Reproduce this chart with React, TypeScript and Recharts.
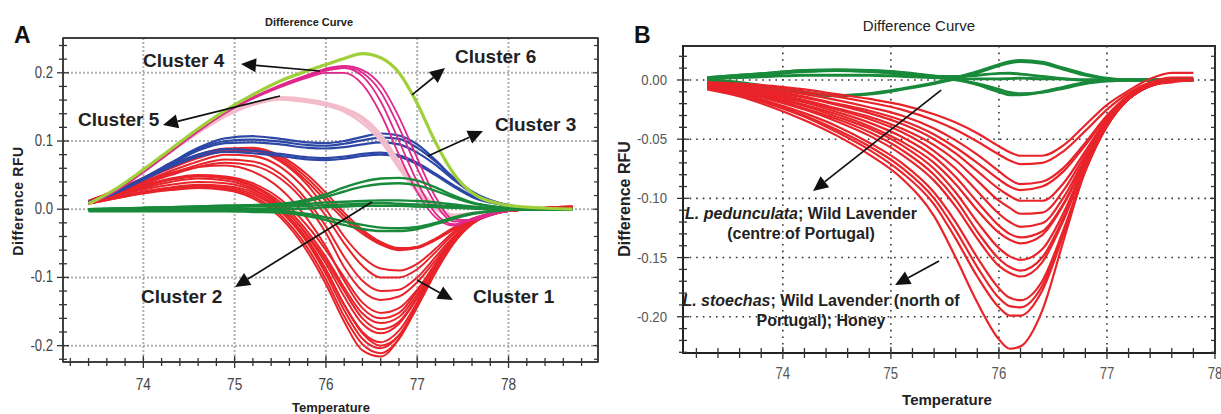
import React from 'react';
import { LineChart, Line, XAxis, YAxis, ReferenceLine, ReferenceArea, CartesianGrid } from 'recharts';

const SANS = "'Liberation Sans', Arial, Helvetica, sans-serif";

// ---------------- Panel A data ----------------
const tempA = [73.4, 73.7, 74.0, 74.3, 74.6, 74.9, 75.2, 75.5, 75.8, 76.0, 76.2, 76.4, 76.6, 76.8, 77.0, 77.2, 77.4, 77.6, 77.9, 78.2, 78.5, 78.7];

const cluster1A = [
  [0.012, 0.028, 0.045, 0.063, 0.078, 0.088, 0.088, 0.075, 0.045, 0.018, -0.01, -0.033, -0.05, -0.058, -0.055, -0.043, -0.027, -0.014, -0.004, 0, 0.003, 0.004],
  [0.012, 0.027, 0.043, 0.06, 0.075, 0.085, 0.085, 0.072, 0.04, 0.012, -0.015, -0.036, -0.052, -0.06, -0.057, -0.045, -0.028, -0.015, -0.004, 0, 0.003, 0.004],
  [0.012, 0.028, 0.046, 0.064, 0.08, 0.089, 0.09, 0.078, 0.05, 0.024, -0.005, -0.03, -0.048, -0.057, -0.056, -0.045, -0.03, -0.016, -0.004, 0, 0.003, 0.004],
  [0.012, 0.027, 0.044, 0.062, 0.077, 0.087, 0.086, 0.07, 0.035, 0, -0.04, -0.07, -0.087, -0.09, -0.08, -0.058, -0.033, -0.016, -0.004, 0, 0.003, 0.004],
  [0.011, 0.025, 0.04, 0.056, 0.07, 0.08, 0.078, 0.062, 0.025, -0.01, -0.05, -0.083, -0.1, -0.1, -0.088, -0.063, -0.036, -0.017, -0.004, 0, 0.002, 0.003],
  [0.011, 0.024, 0.038, 0.052, 0.065, 0.073, 0.07, 0.052, 0.012, -0.025, -0.07, -0.105, -0.12, -0.118, -0.1, -0.07, -0.04, -0.018, -0.005, 0, 0.002, 0.003],
  [0.011, 0.024, 0.037, 0.05, 0.062, 0.068, 0.064, 0.045, 0.005, -0.035, -0.085, -0.12, -0.133, -0.128, -0.107, -0.075, -0.042, -0.019, -0.005, 0, 0.002, 0.003],
  [0.011, 0.025, 0.04, 0.053, 0.062, 0.064, 0.055, 0.03, -0.015, -0.055, -0.105, -0.145, -0.16, -0.152, -0.12, -0.08, -0.044, -0.019, -0.005, 0, 0.002, 0.003],
  [0.01, 0.022, 0.035, 0.045, 0.05, 0.048, 0.038, 0.015, -0.025, -0.06, -0.1, -0.137, -0.152, -0.145, -0.118, -0.08, -0.045, -0.02, -0.005, 0, 0.002, 0.003],
  [0.01, 0.022, 0.034, 0.044, 0.049, 0.046, 0.035, 0.01, -0.033, -0.07, -0.115, -0.153, -0.167, -0.158, -0.125, -0.083, -0.046, -0.02, -0.005, 0, 0.002, 0.003],
  [0.009, 0.019, 0.029, 0.036, 0.04, 0.038, 0.028, 0.005, -0.038, -0.075, -0.12, -0.16, -0.176, -0.165, -0.13, -0.086, -0.047, -0.021, -0.005, 0, 0.002, 0.003],
  [0.01, 0.021, 0.033, 0.043, 0.048, 0.045, 0.033, 0.006, -0.04, -0.08, -0.128, -0.168, -0.182, -0.168, -0.13, -0.085, -0.047, -0.021, -0.005, 0, 0.002, 0.003],
  [0.009, 0.02, 0.031, 0.04, 0.045, 0.042, 0.03, 0.002, -0.047, -0.09, -0.14, -0.18, -0.195, -0.178, -0.136, -0.088, -0.048, -0.021, -0.005, 0, 0.002, 0.003],
  [0.008, 0.017, 0.026, 0.032, 0.036, 0.034, 0.025, 0, -0.045, -0.088, -0.14, -0.182, -0.2, -0.185, -0.143, -0.093, -0.05, -0.022, -0.005, 0, 0.002, 0.003],
  [0.008, 0.017, 0.025, 0.031, 0.034, 0.032, 0.022, -0.003, -0.05, -0.095, -0.148, -0.19, -0.204, -0.185, -0.14, -0.09, -0.049, -0.021, -0.005, 0, 0.002, 0.003],
  [0.008, 0.016, 0.024, 0.03, 0.033, 0.03, 0.019, -0.008, -0.057, -0.103, -0.157, -0.198, -0.211, -0.19, -0.143, -0.091, -0.049, -0.021, -0.005, 0, 0.002, 0.003],
  [0.008, 0.016, 0.023, 0.028, 0.031, 0.028, 0.016, -0.012, -0.063, -0.11, -0.165, -0.207, -0.216, -0.19, -0.14, -0.088, -0.047, -0.02, -0.005, 0, 0.002, 0.003],
];

const cluster2A = [
  [0, 0.001, 0.002, 0.003, 0.004, 0.005, 0.006, 0.008, 0.014, 0.022, 0.032, 0.04, 0.045, 0.046, 0.042, 0.032, 0.02, 0.01, 0.003, 0, 0, 0],
  [0, 0.001, 0.002, 0.003, 0.004, 0.005, 0.006, 0.007, 0.012, 0.018, 0.026, 0.033, 0.037, 0.038, 0.035, 0.027, 0.017, 0.009, 0.003, 0, 0, 0],
  [0, 0, 0.001, 0.002, 0.003, 0.004, 0.005, 0.006, 0.008, 0.01, 0.011, 0.012, 0.013, 0.013, 0.012, 0.01, 0.007, 0.004, 0.001, 0, 0, 0],
  [-0.001, 0, 0, 0.001, 0.002, 0.003, 0.004, 0.004, 0.005, 0.006, 0.007, 0.008, 0.009, 0.008, 0.007, 0.006, 0.004, 0.002, 0, 0, 0, 0],
  [-0.001, -0.001, -0.001, -0.001, 0, 0, 0, 0, 0.001, 0.003, 0.004, 0.005, 0.005, 0.005, 0.004, 0.003, 0.002, 0.001, 0, 0, 0, 0],
  [-0.002, -0.002, -0.002, -0.002, -0.002, -0.002, -0.002, -0.003, -0.007, -0.012, -0.018, -0.023, -0.027, -0.028, -0.026, -0.02, -0.012, -0.006, -0.002, 0, 0, 0],
  [-0.003, -0.003, -0.003, -0.003, -0.003, -0.003, -0.004, -0.005, -0.01, -0.016, -0.023, -0.029, -0.032, -0.032, -0.029, -0.022, -0.014, -0.007, -0.002, 0, 0, 0],
];

const cluster3A = [
  [0.01, 0.025, 0.046, 0.068, 0.09, 0.104, 0.107, 0.103, 0.098, 0.097, 0.1, 0.106, 0.111, 0.108, 0.095, 0.072, 0.045, 0.024, 0.008, 0.002, 0, 0],
  [0.01, 0.025, 0.045, 0.067, 0.088, 0.1, 0.102, 0.099, 0.094, 0.093, 0.096, 0.101, 0.105, 0.103, 0.09, 0.07, 0.046, 0.026, 0.009, 0.002, 0, 0],
  [0.01, 0.024, 0.044, 0.065, 0.086, 0.097, 0.098, 0.095, 0.09, 0.089, 0.091, 0.095, 0.098, 0.095, 0.083, 0.065, 0.043, 0.024, 0.009, 0.002, 0, 0],
  [0.01, 0.024, 0.044, 0.064, 0.08, 0.088, 0.086, 0.081, 0.076, 0.075, 0.077, 0.081, 0.083, 0.079, 0.068, 0.052, 0.035, 0.02, 0.008, 0.002, 0, 0],
  [0.01, 0.024, 0.043, 0.062, 0.077, 0.084, 0.082, 0.078, 0.073, 0.072, 0.074, 0.078, 0.08, 0.077, 0.066, 0.05, 0.033, 0.018, 0.007, 0.002, 0, 0],
];

const cluster4A = [
  [0.008, 0.028, 0.055, 0.085, 0.115, 0.142, 0.163, 0.18, 0.195, 0.203, 0.207, 0.195, 0.158, 0.1, 0.04, -0.006, -0.022, -0.015, -0.004, 0, 0, 0],
  [0.008, 0.028, 0.055, 0.085, 0.115, 0.142, 0.163, 0.181, 0.196, 0.205, 0.209, 0.2, 0.172, 0.12, 0.06, 0.008, -0.018, -0.016, -0.005, 0, 0, 0],
  [0.008, 0.027, 0.054, 0.084, 0.114, 0.141, 0.162, 0.179, 0.193, 0.2, 0.2, 0.183, 0.14, 0.08, 0.025, -0.012, -0.024, -0.014, -0.003, 0, 0, 0],
  [0.008, 0.028, 0.055, 0.085, 0.115, 0.142, 0.164, 0.182, 0.197, 0.206, 0.21, 0.204, 0.182, 0.135, 0.075, 0.018, -0.015, -0.016, -0.005, 0, 0, 0],
];

const cluster5A = [
  [0.008, 0.028, 0.055, 0.085, 0.113, 0.138, 0.155, 0.164, 0.161, 0.156, 0.148, 0.135, 0.11, 0.07, 0.033, 0.006, -0.008, -0.006, -0.002, 0, 0, 0],
  [0.008, 0.028, 0.055, 0.084, 0.112, 0.137, 0.154, 0.162, 0.159, 0.154, 0.146, 0.131, 0.105, 0.065, 0.029, 0.003, -0.009, -0.006, -0.002, 0, 0, 0],
  [0.008, 0.028, 0.055, 0.084, 0.112, 0.136, 0.153, 0.161, 0.157, 0.152, 0.143, 0.126, 0.1, 0.06, 0.025, 0, -0.01, -0.006, -0.002, 0, 0, 0],
];

const cluster6A = [
  [0.008, 0.03, 0.058, 0.088, 0.118, 0.145, 0.168, 0.188, 0.203, 0.212, 0.221, 0.228, 0.222, 0.2, 0.155, 0.098, 0.052, 0.024, 0.008, 0.003, 0.001, 0],
];

// ---------------- Panel B data ----------------
const tempB = [73.3, 73.6, 73.9, 74.2, 74.5, 74.8, 75.1, 75.4, 75.6, 75.8, 76.0, 76.1, 76.2, 76.4, 76.6, 76.8, 77.0, 77.2, 77.4, 77.6, 77.8];

const pedunculataB = [
  [0.002, 0.004, 0.006, 0.008, 0.0085, 0.008, 0.0065, 0.0035, 0.001, -0.004, -0.01, -0.0125, -0.0125, -0.01, -0.006, -0.002, -0.0005, 0, 0, 0, 0],
  [0, -0.003, -0.007, -0.011, -0.0135, -0.012, -0.008, -0.003, 0.001, 0.006, 0.012, 0.0145, 0.0155, 0.014, 0.009, 0.004, 0.001, 0, 0, 0, 0],
  [0.001, 0.003, 0.005, 0.007, 0.008, 0.007, 0.005, 0.003, 0.003, 0.004, 0.0055, 0.0057, 0.005, 0.003, 0.001, 0, 0, 0, 0, 0, 0],
  [0.002, 0.004, 0.006, 0.008, 0.0085, 0.008, 0.006, 0.003, 0, -0.003, -0.008, -0.0105, -0.0115, -0.0105, -0.007, -0.003, -0.001, 0, 0, 0, 0],
  [0, -0.002, -0.006, -0.01, -0.013, -0.0115, -0.0075, -0.0025, 0.002, 0.007, 0.013, 0.0155, 0.0165, 0.015, 0.01, 0.005, 0.0015, 0, 0, 0, 0],
  [0.001, 0.002, 0.003, 0.004, 0.004, 0.004, 0.003, 0.002, 0.001, 0.001, 0.001, 0.0012, 0.0015, 0.001, 0.001, 0, 0, 0, 0, 0, 0],
];

const stoechasB = [
  [-0.002, -0.003, -0.005, -0.008, -0.012, -0.016, -0.021, -0.029, -0.036, -0.045, -0.056, -0.061, -0.064, -0.064, -0.055, -0.038, -0.021, -0.009, 0.001, 0.006, 0.006],
  [-0.002, -0.004, -0.006, -0.01, -0.014, -0.019, -0.025, -0.034, -0.042, -0.052, -0.063, -0.068, -0.071, -0.07, -0.06, -0.043, -0.025, -0.011, -0.002, 0.002, 0.002],
  [-0.003, -0.005, -0.008, -0.012, -0.017, -0.023, -0.03, -0.041, -0.051, -0.063, -0.077, -0.084, -0.088, -0.086, -0.074, -0.053, -0.03, -0.013, -0.004, 0, 0],
  [-0.003, -0.006, -0.009, -0.014, -0.02, -0.026, -0.034, -0.046, -0.057, -0.07, -0.084, -0.09, -0.093, -0.09, -0.077, -0.055, -0.031, -0.014, -0.004, 0, 0],
  [-0.003, -0.006, -0.01, -0.015, -0.021, -0.028, -0.037, -0.05, -0.062, -0.077, -0.092, -0.098, -0.102, -0.102, -0.087, -0.06, -0.033, -0.014, -0.004, -0.001, 0],
  [-0.004, -0.007, -0.011, -0.017, -0.024, -0.031, -0.041, -0.055, -0.068, -0.085, -0.102, -0.108, -0.113, -0.112, -0.093, -0.063, -0.034, -0.015, -0.005, -0.001, 0],
  [-0.004, -0.007, -0.012, -0.018, -0.025, -0.033, -0.044, -0.06, -0.075, -0.094, -0.113, -0.12, -0.124, -0.121, -0.099, -0.066, -0.035, -0.015, -0.005, -0.001, 0],
  [-0.004, -0.008, -0.013, -0.019, -0.027, -0.036, -0.048, -0.065, -0.082, -0.103, -0.123, -0.13, -0.133, -0.128, -0.104, -0.068, -0.036, -0.016, -0.005, -0.001, 0],
  [-0.005, -0.009, -0.014, -0.021, -0.029, -0.039, -0.052, -0.07, -0.088, -0.11, -0.129, -0.135, -0.138, -0.131, -0.105, -0.069, -0.036, -0.016, -0.005, -0.001, 0],
  [-0.005, -0.009, -0.015, -0.022, -0.031, -0.041, -0.055, -0.075, -0.095, -0.12, -0.142, -0.149, -0.152, -0.143, -0.112, -0.071, -0.037, -0.016, -0.005, -0.001, 0],
  [-0.005, -0.01, -0.016, -0.024, -0.033, -0.044, -0.059, -0.08, -0.101, -0.128, -0.151, -0.158, -0.161, -0.15, -0.116, -0.073, -0.038, -0.016, -0.005, -0.001, 0],
  [-0.006, -0.01, -0.017, -0.025, -0.035, -0.047, -0.063, -0.085, -0.107, -0.134, -0.157, -0.163, -0.166, -0.154, -0.118, -0.073, -0.038, -0.016, -0.005, -0.001, 0],
  [-0.006, -0.011, -0.019, -0.028, -0.039, -0.053, -0.07, -0.095, -0.12, -0.15, -0.176, -0.184, -0.186, -0.17, -0.126, -0.076, -0.039, -0.016, -0.005, -0.001, 0],
  [-0.007, -0.012, -0.02, -0.03, -0.042, -0.056, -0.074, -0.1, -0.127, -0.158, -0.184, -0.191, -0.192, -0.174, -0.128, -0.076, -0.039, -0.016, -0.005, -0.001, 0],
  [-0.007, -0.013, -0.021, -0.031, -0.044, -0.059, -0.078, -0.105, -0.134, -0.166, -0.192, -0.199, -0.199, -0.178, -0.13, -0.077, -0.039, -0.016, -0.005, -0.001, 0],
  [-0.008, -0.014, -0.023, -0.034, -0.047, -0.063, -0.083, -0.115, -0.15, -0.188, -0.219, -0.227, -0.225, -0.195, -0.135, -0.076, -0.036, -0.014, -0.005, -0.002, 0],
];

// ---------------- Ticks ----------------
const xTicksA = [73.2, 73.4, 73.6, 73.8, 74, 74.2, 74.4, 74.6, 74.8, 75, 75.2, 75.4, 75.6, 75.8, 76, 76.2, 76.4, 76.6, 76.8, 77, 77.2, 77.4, 77.6, 77.8, 78, 78.2, 78.4, 78.6, 78.8];
const xMajorA = [74, 75, 76, 77, 78];
const xLabelsA = ['74', '75', '76', '77', '78'];
const yTicksA = [-0.22, -0.2, -0.18, -0.16, -0.14, -0.12, -0.1, -0.08, -0.06, -0.04, -0.02, 0, 0.02, 0.04, 0.06, 0.08, 0.1, 0.12, 0.14, 0.16, 0.18, 0.2, 0.22, 0.24];
const yMajorA = [-0.2, -0.1, 0, 0.1, 0.2];
const yLabelsA = ['-0.2', '-0.1', '0.0', '0.1', '0.2'];

const xTicksB = [73.2, 73.4, 73.6, 73.8, 74, 74.2, 74.4, 74.6, 74.8, 75, 75.2, 75.4, 75.6, 75.8, 76, 76.2, 76.4, 76.6, 76.8, 77, 77.2, 77.4, 77.6, 77.8, 78];
const xMajorB = [74, 75, 76, 77, 78];
const xLabelsB = ['74', '75', '76', '77', '78'];
const yTicksB = [-0.23, -0.22, -0.21, -0.2, -0.19, -0.18, -0.17, -0.16, -0.15, -0.14, -0.13, -0.12, -0.11, -0.1, -0.09, -0.08, -0.07, -0.06, -0.05, -0.04, -0.03, -0.02, -0.01, 0, 0.01, 0.02];
const yMajorB = [-0.2, -0.15, -0.1, -0.05, 0];
const yLabelsB = ['-0.20', '-0.15', '-0.10', '-0.05', '0.00'];

// ---------------- Helpers ----------------
type Group = { key: string; color: string; width: number; series: number[][] };

function buildRows(xs: number[], groups: Group[]) {
  return xs.map((t, i) => {
    const row: Record<string, number> = { t };
    groups.forEach((g) => g.series.forEach((s, j) => { row[`${g.key}${j}`] = s[i]; }));
    return row;
  });
}

const groupsA: Group[] = [
  { key: 'c1_', color: '#e8242a', width: 2, series: cluster1A },
  { key: 'c3_', color: '#2c47a6', width: 2.2, series: cluster3A },
  { key: 'c5_', color: '#f3bccb', width: 2.5, series: cluster5A },
  { key: 'c4_', color: '#e0288c', width: 1.8, series: cluster4A },
  { key: 'c2_', color: '#188a3a', width: 2.4, series: cluster2A },
  { key: 'c6_', color: '#9fd03a', width: 3.2, series: cluster6A },
];
const groupsB: Group[] = [
  { key: 'ped_', color: '#188a3a', width: 2.8, series: pedunculataB },
  { key: 'sto_', color: '#e8242a', width: 2.2, series: stoechasB },
];

const rowsA = buildRows(tempA, groupsA);
const rowsB = buildRows(tempB, groupsB);

type TickCfg = {
  side: 'bottom' | 'left' | 'top' | 'right';
  majors: number[];
  labels?: string[];
  major: number;
  minor: number;
  fontSize?: number;
  off?: number;
  sx?: number;
  color?: string;
};

function makeTick(cfg: TickCfg) {
  return (p: any) => {
    const { x, y, payload } = p;
    const v = payload.value;
    const idx = cfg.majors.indexOf(v);
    const len = idx >= 0 ? cfg.major : cfg.minor;
    const stroke = '#333';
    const sx = cfg.sx || 1;
    let line: React.ReactNode = null;
    let label: React.ReactNode = null;
    if (cfg.side === 'bottom') {
      line = <line x1={x} x2={x} y1={y - len} y2={y + len} stroke={stroke} strokeWidth={1.3} />;
      if (idx >= 0 && cfg.labels) {
        label = (
          <text transform={`translate(${x},${y + (cfg.off || 0)}) scale(${sx},1)`} textAnchor="middle" fontSize={cfg.fontSize} fontFamily={SANS} fill={cfg.color || '#444'}>
            {cfg.labels[idx]}
          </text>
        );
      }
    } else if (cfg.side === 'left') {
      line = <line x1={x - len} x2={x + len} y1={y} y2={y} stroke={stroke} strokeWidth={1.3} />;
      if (idx >= 0 && cfg.labels) {
        label = (
          <text transform={`translate(${x - (cfg.off || 0)},${y + 5}) scale(${sx},1)`} textAnchor="end" fontSize={cfg.fontSize} fontFamily={SANS} fill={cfg.color || '#444'}>
            {cfg.labels[idx]}
          </text>
        );
      }
    } else if (cfg.side === 'top') {
      line = <line x1={x} x2={x} y1={y} y2={y + len} stroke={stroke} strokeWidth={1.2} />;
    } else {
      line = <line x1={x - len} x2={x} y1={y} y2={y} stroke={stroke} strokeWidth={1.2} />;
    }
    return (
      <g>
        {line}
        {label}
      </g>
    );
  };
}

const Arrow = (props: any) => {
  const { x1, y1, x2, y2 } = props;
  const ang = Math.atan2(y2 - y1, x2 - x1);
  const L = 15;
  const W = 7;
  const bx = x2 - L * Math.cos(ang);
  const by = y2 - L * Math.sin(ang);
  const px = -Math.sin(ang) * W;
  const py = Math.cos(ang) * W;
  return (
    <g>
      <line x1={x1} y1={y1} x2={bx} y2={by} stroke="#111" strokeWidth={1.7} />
      <polygon points={`${x2},${y2} ${bx + px},${by + py} ${bx - px},${by - py}`} fill="#111" />
    </g>
  );
};

// arrow segments (tail -> tip), in data coordinates
const arrowsA = [
  [75.935, 0.2026, 75.07, 0.2129],
  [75.497, 0.166, 74.215, 0.1235],
  [76.943, 0.1675, 77.304, 0.207],
  [77.118, 0.078, 77.72, 0.1147],
  [76.504, 0.0106, 75.004, -0.114],
  [76.997, -0.1038, 77.39, -0.1331],
];
const arrowsB = [
  [75.465, -0.0085, 74.28, -0.0937],
  [75.446, -0.1529, 75.039, -0.1731],
];

function renderLines(groups: Group[]) {
  const out: React.ReactNode[] = [];
  groups.forEach((g) =>
    g.series.forEach((_, j) =>
      out.push(
        <Line
          key={`${g.key}${j}`}
          dataKey={`${g.key}${j}`}
          type="monotone"
          stroke={g.color}
          strokeWidth={g.width}
          dot={false}
          activeDot={false}
          isAnimationActive={false}
        />
      )
    )
  );
  return out;
}

function renderArrows(list: number[][], prefix: string) {
  return list.map((a, i) => (
    <ReferenceLine
      key={`${prefix}${i}`}
      segment={[{ x: a[0], y: a[1] }, { x: a[2], y: a[3] }]}
      ifOverflow="visible"
      shape={Arrow}
    />
  ));
}

const domXA: [number, number] = [73.12, 78.98];
const domYA: [number, number] = [-0.224, 0.251];
const domXB: [number, number] = [73.076, 78.0];
const domYB: [number, number] = [-0.2306, 0.0287];

function PanelA() {
  return (
    <LineChart width={610} height={414} data={rowsA} margin={{ top: 37, right: 11, left: 0, bottom: 0 }}>
      <CartesianGrid
        horizontalValues={yMajorA}
        verticalValues={xMajorA}
        stroke="#b0b0b0"
        strokeWidth={2}
        strokeDasharray="2 2"
      />
      <XAxis
        dataKey="t"
        type="number"
        domain={domXA}
        allowDataOverflow
        ticks={xTicksA}
        interval={0}
        height={52}
        tickSize={0}
        tickMargin={0}
        tickLine={false}
        axisLine={{ stroke: '#333', strokeWidth: 1.5 }}
        tick={makeTick({ side: 'bottom', majors: xMajorA, labels: xLabelsA, major: 6, minor: 4, fontSize: 17, off: 28, sx: 0.8 })}
      />
      <XAxis
        xAxisId="top"
        orientation="top"
        type="number"
        domain={domXA}
        allowDataOverflow
        ticks={xTicksA}
        interval={0}
        height={1}
        tickSize={0}
        tickMargin={0}
        tickLine={false}
        axisLine={{ stroke: '#333', strokeWidth: 1.5 }}
        tick={makeTick({ side: 'top', majors: xMajorA, major: 5, minor: 4 })}
      />
      <YAxis
        type="number"
        domain={domYA}
        allowDataOverflow
        ticks={yTicksA}
        interval={0}
        width={63}
        tickSize={0}
        tickMargin={0}
        tickLine={false}
        axisLine={{ stroke: '#333', strokeWidth: 1.5 }}
        tick={makeTick({ side: 'left', majors: yMajorA, labels: yLabelsA, major: 6, minor: 4, fontSize: 16, off: 10, sx: 0.82 })}
      />
      <YAxis
        yAxisId="right"
        orientation="right"
        type="number"
        domain={domYA}
        allowDataOverflow
        ticks={yTicksA}
        interval={0}
        width={1}
        tickSize={0}
        tickMargin={0}
        tickLine={false}
        axisLine={{ stroke: '#333', strokeWidth: 1.5 }}
        tick={makeTick({ side: 'right', majors: yMajorA, major: 5, minor: 4 })}
      />
      <ReferenceArea x1={domXA[0]} x2={domXA[1]} y1={domYA[0]} y2={domYA[1]} fill="none" fillOpacity={0} stroke="#333" strokeWidth={1.5} ifOverflow="visible" />
      {renderLines(groupsA)}
      {renderArrows(arrowsA, 'aa')}
    </LineChart>
  );
}

function PanelB() {
  return (
    <LineChart width={611} height={414} data={rowsB} margin={{ top: 45, right: 5, left: 0, bottom: 0 }}>
      <CartesianGrid
        horizontalValues={yMajorB}
        verticalValues={xMajorB}
        stroke="#333"
        strokeWidth={1.6}
        strokeDasharray="1.6 5"
      />
      <XAxis
        dataKey="t"
        type="number"
        domain={domXB}
        allowDataOverflow
        ticks={xTicksB}
        interval={0}
        height={61}
        tickSize={0}
        tickMargin={0}
        tickLine={false}
        axisLine={{ stroke: '#222', strokeWidth: 2 }}
        tick={makeTick({ side: 'bottom', majors: xMajorB, labels: xLabelsB, major: 6, minor: 5, fontSize: 16, off: 26, sx: 0.82, color: '#555' })}
      />
      <XAxis
        xAxisId="top"
        orientation="top"
        type="number"
        domain={domXB}
        allowDataOverflow
        ticks={xTicksB}
        interval={0}
        height={1}
        tickSize={0}
        tickMargin={0}
        tickLine={false}
        axisLine={{ stroke: '#333', strokeWidth: 1.5 }}
        tick={makeTick({ side: 'top', majors: xMajorB, major: 5, minor: 4 })}
      />
      <YAxis
        type="number"
        domain={domYB}
        allowDataOverflow
        ticks={yTicksB}
        interval={0}
        width={73}
        tickSize={0}
        tickMargin={0}
        tickLine={false}
        axisLine={{ stroke: '#222', strokeWidth: 2 }}
        tick={makeTick({ side: 'left', majors: yMajorB, labels: yLabelsB, major: 6, minor: 4, fontSize: 15, off: 16, sx: 0.88, color: '#555' })}
      />
      <YAxis
        yAxisId="right"
        orientation="right"
        type="number"
        domain={domYB}
        allowDataOverflow
        ticks={yTicksB}
        interval={0}
        width={1}
        tickSize={0}
        tickMargin={0}
        tickLine={false}
        axisLine={{ stroke: '#333', strokeWidth: 1.5 }}
        tick={makeTick({ side: 'right', majors: yMajorB, major: 5, minor: 4 })}
      />
      <ReferenceArea x1={domXB[0]} x2={domXB[1]} y1={domYB[0]} y2={domYB[1]} fill="none" fillOpacity={0} stroke="#222" strokeWidth={2} ifOverflow="visible" />
      {renderLines(groupsB)}
      {renderArrows(arrowsB, 'bb')}
    </LineChart>
  );
}

export default function App() {
  const txt = { fontFamily: SANS, fill: '#222', fontWeight: 700 } as const;
  return (
    <div style={{ position: 'absolute', left: 0, top: 0, width: 1221, height: 414, background: '#fff', overflow: 'hidden' }}>
      <div style={{ position: 'absolute', left: 0, top: 0 }}>
        <PanelA />
      </div>
      <div style={{ position: 'absolute', left: 610, top: 0 }}>
        <PanelB />
      </div>
      <svg width={1221} height={414} style={{ position: 'absolute', left: 0, top: 0, pointerEvents: 'none' }}>
        {/* Panel A titles */}
        <text x={14} y={43} fontSize={23} {...txt} fill="#111">A</text>
        <text x={309} y={26} fontSize={11} textAnchor="middle" {...txt}>Difference Curve</text>
        <text transform="translate(23,201) rotate(-90)" textAnchor="middle" fontSize={14} letterSpacing={0.6} {...txt}>Difference RFU</text>
        <text x={331} y={412} fontSize={13} textAnchor="middle" {...txt}>Temperature</text>
        {/* Cluster labels */}
        <text x={143} y={67} fontSize={19} {...txt}>Cluster 4</text>
        <text x={78} y={126} fontSize={19} {...txt}>Cluster 5</text>
        <text x={455} y={63} fontSize={19} {...txt}>Cluster 6</text>
        <text x={495} y={131} fontSize={19} {...txt}>Cluster 3</text>
        <text x={141} y={303} fontSize={19} {...txt}>Cluster 2</text>
        <text x={473} y={303} fontSize={19} {...txt}>Cluster 1</text>
        {/* Panel B titles */}
        <text x={634} y={43} fontSize={23} {...txt} fill="#111">B</text>
        <text x={919} y={31} fontSize={15} textAnchor="middle" fontFamily={SANS} fill="#222">Difference Curve</text>
        <text transform="translate(630,199) rotate(-90)" textAnchor="middle" fontSize={16} {...txt}>Difference RFU</text>
        <text x={947} y={405} fontSize={15} textAnchor="middle" {...txt}>Temperature</text>
        {/* Panel B annotations */}
        <text x={801} y={219} fontSize={16} textAnchor="middle" {...txt}>
          <tspan fontStyle="italic">L. pedunculata</tspan>; Wild Lavender
        </text>
        <text x={801} y={239} fontSize={16} textAnchor="middle" {...txt}>(centre of Portugal)</text>
        <text x={821} y={306} fontSize={16} textAnchor="middle" {...txt}>
          <tspan fontStyle="italic">L. stoechas</tspan>; Wild Lavender (north of
        </text>
        <text x={821} y={326} fontSize={16} textAnchor="middle" {...txt}>Portugal); Honey</text>
      </svg>
    </div>
  );
}
